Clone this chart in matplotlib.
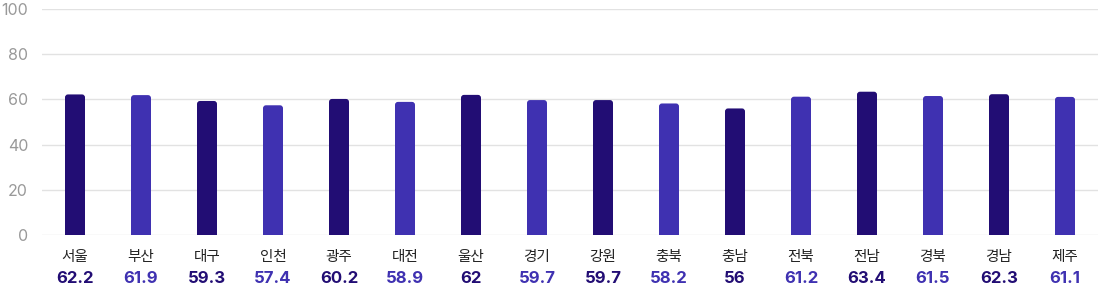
import matplotlib
matplotlib.use('Agg')
import matplotlib.pyplot as plt
from matplotlib.patches import FancyBboxPatch

regions = ['서울', '부산', '대구', '인천', '광주', '대전', '울산', '경기',
           '강원', '충북', '충남', '전북', '전남', '경북', '경남', '제주']
values = [62.2, 61.9, 59.3, 57.4, 60.2, 58.9, 62, 59.7,
          59.7, 58.2, 56, 61.2, 63.4, 61.5, 62.3, 61.1]
y_ticks = [0, 20, 40, 60, 80, 100]

dark = '#220d74'
light = '#3f31b1'
colors = [dark if i % 2 == 0 else light for i in range(len(regions))]

plt.rcParams['font.family'] = ['Inter', 'Noto Sans CJK KR', 'DejaVu Sans']

fig = plt.figure(figsize=(11.01, 2.89), dpi=100)
ax = fig.add_axes([42 / 1101, 54 / 289, 1056 / 1101, 226 / 289])
ax.set_xlim(-0.5, len(regions) - 0.5)
ax.set_ylim(0, 100)

bar_w = 20 / 66
# rounded top corners: ~3px radius
rx = 3 / 66
ry = 3 / 2.26
for i, (v, c) in enumerate(zip(values, colors)):
    p = FancyBboxPatch((i - bar_w / 2, -5), bar_w, v + 5,
                       boxstyle=f'round,pad=0,rounding_size={rx}',
                       mutation_aspect=ry / rx,
                       facecolor=c, edgecolor='none', zorder=3)
    p.set_clip_on(True)
    ax.add_patch(p)

ax.set_yticks(y_ticks)
ax.set_yticklabels([str(t) for t in y_ticks], color='#999999', fontsize=11.5)
ax.tick_params(axis='y', length=0, pad=10)
ax.set_xticks([])
ax.grid(axis='y', color='#e2e2e2', linewidth=1, zorder=0)
for s in ax.spines.values():
    s.set_visible(False)

for i, (name, v, c) in enumerate(zip(regions, values, colors)):
    ax.annotate(name, xy=(i, 0), xycoords=('data', 'axes fraction'),
                xytext=(0, -16), textcoords='offset points',
                ha='center', va='center', fontsize=10.5, color='#222222')
    ax.annotate(f'{v:g}', xy=(i, 0), xycoords=('data', 'axes fraction'),
                xytext=(0, -31), textcoords='offset points',
                ha='center', va='center', fontsize=12, fontweight='bold', color=c)

fig.savefig('out.png', dpi=100)
